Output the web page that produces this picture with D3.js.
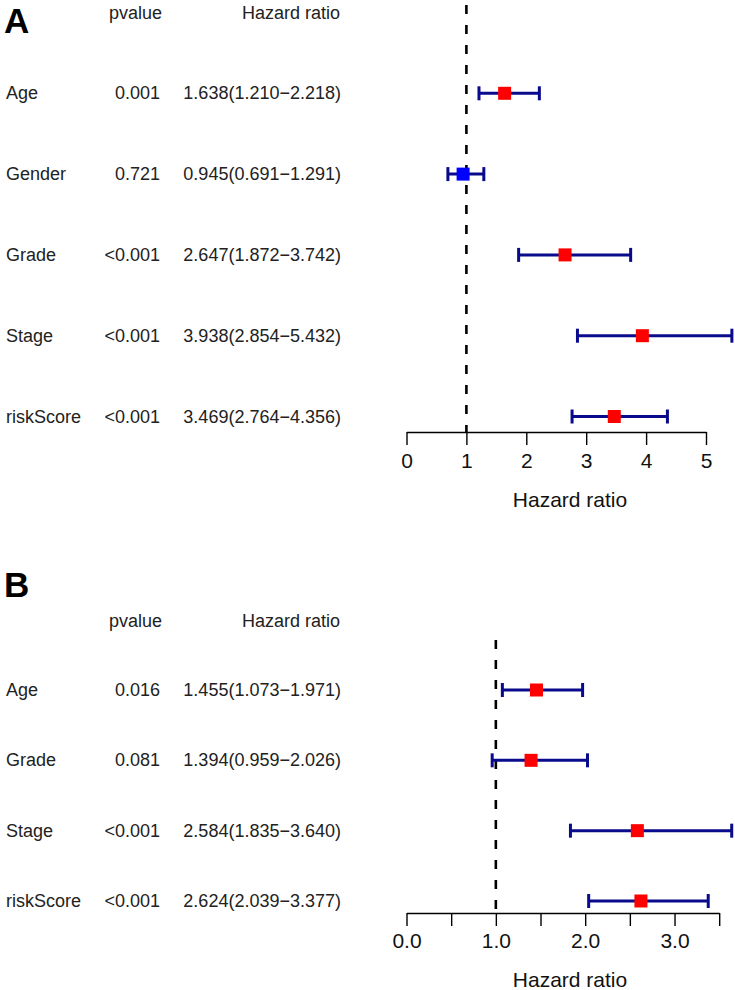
<!DOCTYPE html>
<html>
<head>
<meta charset="utf-8">
<script src="https://cdn.jsdelivr.net/npm/d3@7"></script>
<style>
  html, body { margin: 0; padding: 0; background: #fff; }
  svg { display: block; font-family: "Liberation Sans", Arial, Helvetica, sans-serif; }
</style>
</head>
<body>
<svg id="chart" width="735" height="990"></svg>
<script>
// ---- Data ----
const labelsA = ["Age", "Gender", "Grade", "Stage", "riskScore"];
const pvaluesA = ["0.001", "0.721", "<0.001", "<0.001", "<0.001"];
const hrA = [1.638, 0.945, 2.647, 3.938, 3.469];
const lowA = [1.210, 0.691, 1.872, 2.854, 2.764];
const highA = [2.218, 1.291, 3.742, 5.432, 4.356];
const ticksA = [0, 1, 2, 3, 4, 5];

const labelsB = ["Age", "Grade", "Stage", "riskScore"];
const pvaluesB = ["0.016", "0.081", "<0.001", "<0.001"];
const hrB = [1.455, 1.394, 2.584, 2.624];
const lowB = [1.073, 0.959, 1.835, 2.039];
const highB = [1.971, 2.026, 3.640, 3.377];
const ticksB = [0, 0.5, 1, 1.5, 2, 2.5, 3, 3.5];

const svg = d3.select("#chart");
const f3 = d3.format(".3f");

function panel(opts) {
  const { letter, letterY, headerY, rowRange, axisY, dashTop, xDomain, xRange,
          labels, pvalues, hr, low, high, ticks, tickFmt, tickPad, titleX, titleY } = opts;
  const g = svg.append("g");
  const rows = labels.map((l, i) => ({ label: l, p: pvalues[i], hr: hr[i], low: low[i], high: high[i] }));
  const x = d3.scaleLinear().domain(xDomain).range(xRange);
  const y = d3.scalePoint().domain(labels).range(rowRange);

  // Panel letter
  g.append("text").attr("x", 4).attr("y", letterY)
    .attr("font-size", 35).attr("font-weight", "bold").attr("fill", "#000").text(letter);

  // Headers
  g.append("text").attr("x", 162).attr("y", headerY + 6).attr("text-anchor", "end")
    .attr("font-size", 18).attr("fill", "#222").text("pvalue");
  g.append("text").attr("x", 340).attr("y", headerY + 6).attr("text-anchor", "end")
    .attr("font-size", 18).attr("fill", "#222").text("Hazard ratio");

  // Row texts
  const rt = g.selectAll(".row").data(rows).enter().append("g")
    .attr("transform", d => `translate(0,${y(d.label) + 6})`);
  rt.append("text").attr("x", 6).attr("font-size", 18).attr("fill", "#222").text(d => d.label);
  rt.append("text").attr("x", 160).attr("text-anchor", "end").attr("font-size", 18).attr("fill", "#222").text(d => d.p);
  rt.append("text").attr("x", 341).attr("text-anchor", "end").attr("font-size", 18).attr("fill", "#222")
    .text(d => `${f3(d.hr)}(${f3(d.low)}\u2212${f3(d.high)})`);

  // Reference dashed line at HR = 1
  g.append("line").attr("x1", x(1)).attr("x2", x(1)).attr("y1", dashTop).attr("y2", axisY)
    .attr("stroke", "#000").attr("stroke-width", 2.6).attr("stroke-dasharray", "9,11");

  // Axis
  const axis = d3.axisBottom(x).tickValues(ticks).tickSize(13).tickSizeOuter(0)
    .tickPadding(tickPad).tickFormat(tickFmt);
  const ag = g.append("g").attr("transform", `translate(0,${axisY})`).call(axis);
  ag.select(".domain").attr("stroke", "#000").attr("stroke-width", 1.4);
  ag.selectAll(".tick line").attr("stroke", "#000").attr("stroke-width", 1.4);
  ag.selectAll(".tick text").attr("font-size", 21).attr("fill", "#111")
    .attr("font-family", "Liberation Sans, Arial, sans-serif");

  g.append("text").attr("x", titleX).attr("y", titleY)
    .attr("text-anchor", "middle").attr("font-size", 21).attr("fill", "#111").text("Hazard ratio");

  // Error bars
  const eb = g.selectAll(".eb").data(rows).enter().append("g");
  const navy = "#0a0a8c";
  eb.append("line").attr("x1", d => x(d.low)).attr("x2", d => x(d.high))
    .attr("y1", d => y(d.label)).attr("y2", d => y(d.label))
    .attr("stroke", navy).attr("stroke-width", 3);
  eb.append("line").attr("x1", d => x(d.low)).attr("x2", d => x(d.low))
    .attr("y1", d => y(d.label) - 7).attr("y2", d => y(d.label) + 7)
    .attr("stroke", navy).attr("stroke-width", 3);
  eb.append("line").attr("x1", d => x(d.high)).attr("x2", d => x(d.high))
    .attr("y1", d => y(d.label) - 7).attr("y2", d => y(d.label) + 7)
    .attr("stroke", navy).attr("stroke-width", 3);
  eb.append("rect").attr("x", d => x(d.hr) - 6.5).attr("y", d => y(d.label) - 6.5)
    .attr("width", 13).attr("height", 13)
    .attr("fill", d => d.hr > 1 ? "#ff0000" : "#0000ff");
}

panel({
  letter: "A", letterY: 33, headerY: 13, rowRange: [93.3, 416.5], axisY: 432, dashTop: 5,
  xDomain: [0, 5], xRange: [406.5, 706], labels: labelsA, pvalues: pvaluesA, hr: hrA,
  low: lowA, high: highA, ticks: ticksA, tickFmt: d3.format("d"), tickPad: 8,
  titleX: 570, titleY: 507
});

panel({
  letter: "B", letterY: 597, headerY: 621, rowRange: [690, 901], axisY: 913, dashTop: 640,
  xDomain: [0, 3.5], xRange: [406.5, 719.2], labels: labelsB, pvalues: pvaluesB, hr: hrB,
  low: lowB, high: highB, ticks: ticksB,
  tickFmt: d => Number.isInteger(d) ? d3.format(".1f")(d) : "", tickPad: 7,
  titleX: 570, titleY: 987
});
</script>
</body>
</html>
